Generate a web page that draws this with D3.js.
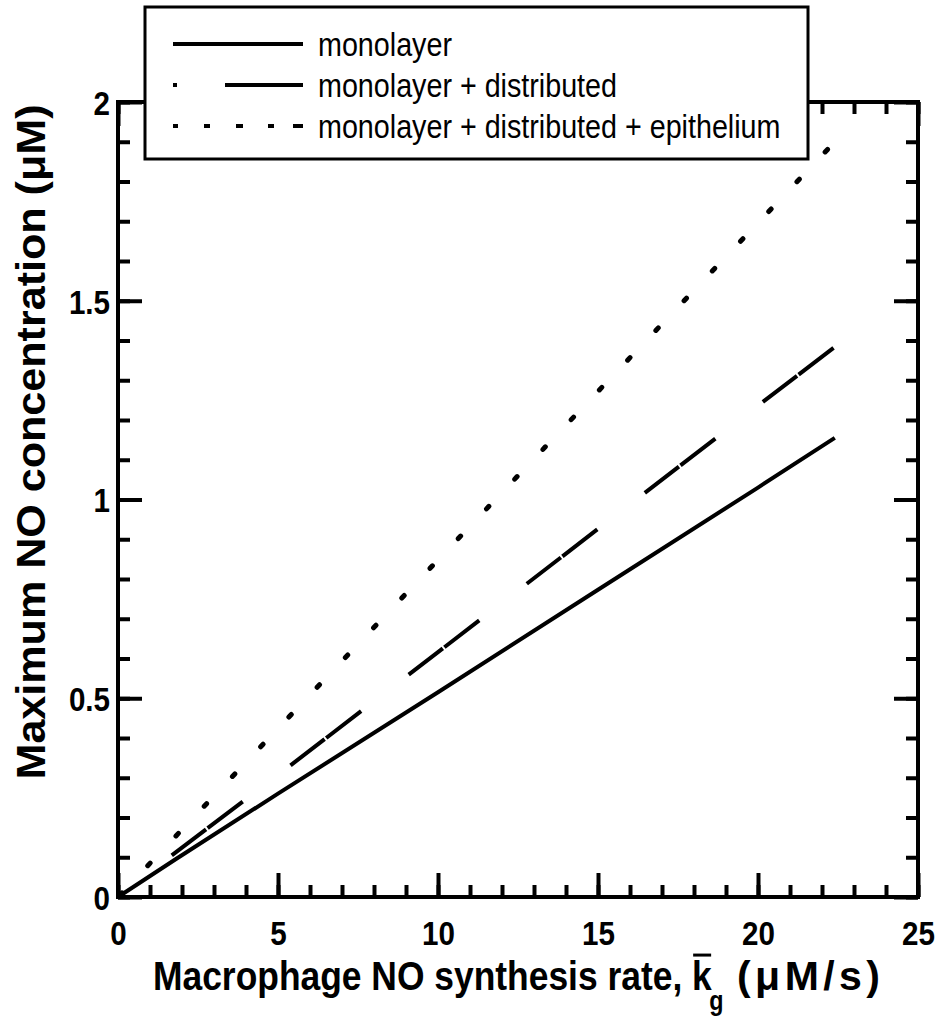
<!DOCTYPE html>
<html>
<head>
<meta charset="utf-8">
<script src="https://cdn.jsdelivr.net/npm/d3@7"></script>
<style>
body { margin: 0; background: #fff; }
svg { display: block; font-family: "Liberation Sans", Arial, Helvetica, sans-serif; }
</style>
</head>
<body>
<script>
//values (kg in uM/s, concentration in uM)
var kgMono = [0, 1.8, 5, 10, 15, 20, 22.4];
var concMono = [0, 0.095, 0.26, 0.515, 0.773, 1.03, 1.155];
var kgDist = [0, 1.7, 5, 10, 15, 20, 22.4];
var concDist = [0, 0.106, 0.307, 0.616, 0.926, 1.236, 1.384];
var kgEpi = [0, 5, 10, 15, 20, 22.4];
var concEpi = [0, 0.424, 0.848, 1.272, 1.696, 1.9];

var legendLabels = ["monolayer", "monolayer + distributed", "monolayer + distributed + epithelium"];
var xTicks = [0, 5, 10, 15, 20, 25];
var yTicks = [0, 0.5, 1, 1.5, 2];
var yTickLabels = ["0", "0.5", "1", "1.5", "2"];

var width = 936, height = 1023;
var squeeze = 0.87; //the figure's lettering is narrower than the font

var svg = d3.select("body").append("svg")
    .attr("width", width)
    .attr("height", height);

var x = d3.scaleLinear().domain([0, 25]).range([118, 918]);
var y = d3.scaleLinear().domain([0, 2]).range([897, 102]);

//series lines
var line = d3.line()
    .x(function(d){ return x(d[0]); })
    .y(function(d){ return y(d[1]); });

svg.append("path")
    .datum(d3.zip(kgMono, concMono))
    .attr("d", line)
    .attr("fill", "none")
    .attr("stroke", "#000")
    .attr("stroke-width", 4);

svg.append("path")
    .datum(d3.zip(kgDist, concDist))
    .attr("d", line)
    .attr("fill", "none")
    .attr("stroke", "#000")
    .attr("stroke-width", 4)
    .attr("stroke-dasharray", "43,2,44,60")
    .attr("stroke-dashoffset", -68);

svg.append("path")
    .datum(d3.zip(kgEpi, concEpi))
    .attr("d", line)
    .attr("fill", "none")
    .attr("stroke", "#000")
    .attr("stroke-width", 5)
    .attr("stroke-linecap", "round")
    .attr("stroke-dasharray", "3.5,37.5")
    .attr("stroke-dashoffset", -2.2);

//frame
svg.append("rect")
    .attr("x", x(0))
    .attr("y", y(2))
    .attr("width", x(25) - x(0))
    .attr("height", y(0) - y(2))
    .attr("fill", "none")
    .attr("stroke", "#000")
    .attr("stroke-width", 4);

//axes: major + minor ticks on all four sides, pointing inward
function drawAxis(axis, tx, ty, fontSize){
    var g = svg.append("g")
        .attr("transform", "translate(" + tx + "," + ty + ")")
        .call(axis);
    g.select(".domain").remove();
    g.selectAll(".tick line").attr("stroke", "#000").attr("stroke-width", 4);
    g.selectAll("text")
        .attr("fill", "#000")
        .attr("font-size", fontSize)
        .style("font-size", fontSize + "px")
        .style("font-weight", "bold")
        .style("font-family", "'Liberation Sans', Arial, sans-serif");
    return g;
}

var xBottom = drawAxis(d3.axisBottom(x).tickValues(xTicks).tickSize(-24), 0, y(0), 34);
xBottom.selectAll("text")
    .attr("y", null).attr("dy", null)
    .attr("transform", "translate(0,48) scale(" + squeeze + ",1)");
drawAxis(d3.axisBottom(x).ticks(25).tickSize(-12).tickFormat(""), 0, y(0));
drawAxis(d3.axisTop(x).tickValues(xTicks).tickSize(-24).tickFormat(""), 0, y(2));
drawAxis(d3.axisTop(x).ticks(25).tickSize(-12).tickFormat(""), 0, y(2));

var yLeft = drawAxis(d3.axisLeft(y).tickValues(yTicks).tickSize(-24)
    .tickFormat(function(d, i){ return yTickLabels[i]; }), x(0), 0, 34);
yLeft.selectAll("text")
    .attr("x", null).attr("dy", "0.36em")
    .attr("transform", "translate(-8,0) scale(" + squeeze + ",1)");
drawAxis(d3.axisLeft(y).ticks(20).tickSize(-12).tickFormat(""), x(0), 0);
drawAxis(d3.axisRight(y).tickValues(yTicks).tickSize(-24).tickFormat(""), x(25), 0);
drawAxis(d3.axisRight(y).ticks(20).tickSize(-12).tickFormat(""), x(25), 0);

//legend box
var legend = svg.append("g").attr("class", "legend");
legend.append("rect")
    .attr("x", 145)
    .attr("y", 7)
    .attr("width", 663)
    .attr("height", 152)
    .attr("fill", "#fff")
    .attr("stroke", "#000")
    .attr("stroke-width", 3);

var legendDash = [null, "4,48,78", "5,26,6,26,7,25,6,19,11"];
legendLabels.forEach(function(label, i){
    var ly = 44 + i * 41;
    legend.append("line")
        .attr("x1", 173).attr("x2", 303)
        .attr("y1", ly).attr("y2", ly)
        .attr("stroke", "#000")
        .attr("stroke-width", 4)
        .attr("stroke-dasharray", legendDash[i]);
    legend.append("text")
        .attr("transform", "translate(318," + ly + ") scale(" + squeeze + ",1)")
        .attr("dy", "0.36em")
        .style("font-size", "33px")
        .text(label);
});

//x axis title: "Macrophage ... rate, k" spans 153 -> 712, "(uM/s)" spans 737 -> 880
var titleSize = 41;
var xTitleG = svg.append("g");
var xTitle = xTitleG.append("text")
    .style("font-size", titleSize + "px")
    .style("font-weight", "bold");
xTitle.append("tspan").text("Macrophage NO synthesis rate, k");
xTitle.append("tspan").attr("dx", -3).attr("dy", 20).style("font-size", "27px").text("g");

var preLen = xTitle.node().getSubStringLength(0, 30);
var kLen = xTitle.node().getSubStringLength(30, 1);
var sx = (712 - 153) / (preLen + kLen);
xTitleG.attr("transform", "translate(153,990) scale(" + sx + ",1)");

//bar over the k
xTitleG.append("line")
    .attr("x1", preLen + 1)
    .attr("x2", preLen + kLen - 1)
    .attr("y1", -titleSize * 0.73 - 5)
    .attr("y2", -titleSize * 0.73 - 5)
    .attr("stroke", "#000")
    .attr("stroke-width", 3);

//units, slightly opened up to the width they take in the figure
var unitText = svg.append("text")
    .attr("x", 737)
    .attr("y", 990)
    .style("font-size", titleSize + "px")
    .style("font-weight", "bold")
    .text("(\u03bcM/s)");
var unitLen = unitText.node().getComputedTextLength();
unitText.style("letter-spacing", Math.max(0, (880 - 737 - unitLen) / 5) + "px");

//y axis title
svg.append("text")
    .attr("transform", "translate(45,442) rotate(-90)")
    .attr("text-anchor", "middle")
    .attr("textLength", 675)
    .attr("lengthAdjust", "spacingAndGlyphs")
    .style("font-size", "40px")
    .style("font-weight", "bold")
    .text("Maximum NO concentration (\u03bcM)");
</script>
</body>
</html>
